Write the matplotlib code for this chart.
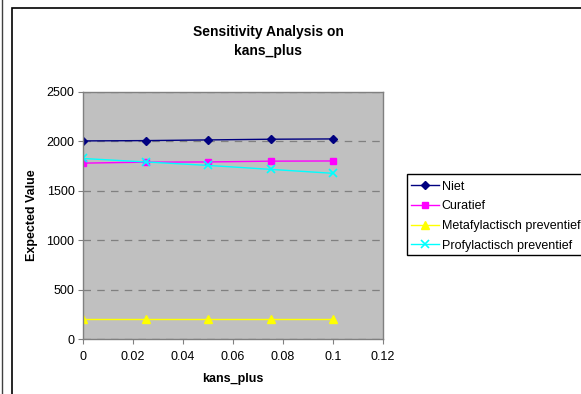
import matplotlib
matplotlib.use("Agg")
import matplotlib.pyplot as plt
from matplotlib.patches import Rectangle
from matplotlib.lines import Line2D

plt.rcParams['font.family'] = ['Liberation Sans', 'DejaVu Sans']

x_values = [0, 0.025, 0.05, 0.075, 0.1]
niet = [2005, 2008, 2015, 2022, 2025]
curatief = [1780, 1790, 1792, 1800, 1802]
metafylactisch = [200, 200, 200, 200, 200]
profylactisch = [1827, 1792, 1757, 1717, 1677]

series_names = ["Niet", "Curatief", "Metafylactisch preventief", "Profylactisch preventief"]
x_ticks = [0, 0.02, 0.04, 0.06, 0.08, 0.1, 0.12]
x_tick_labels = ["0", "0.02", "0.04", "0.06", "0.08", "0.1", "0.12"]
y_ticks = [0, 500, 1000, 1500, 2000, 2500]

W, H = 581, 394
fig = plt.figure(figsize=(W / 100, H / 100), dpi=100)
fig.patch.set_facecolor('white')

# outer chart border
fig.add_artist(Rectangle((12 / W, -0.05), 1.2, 1 - 8 / H + 0.05, transform=fig.transFigure,
                         fill=False, edgecolor='black', linewidth=1.2))
fig.add_artist(Line2D([2.5 / W, 2.5 / W], [0, 1], transform=fig.transFigure, color='#404040', linewidth=1.0))

left, right, top, bottom = 83, 383, 92, 339
ax = fig.add_axes([left / W, 1 - bottom / H, (right - left) / W, (bottom - top) / H])
ax.set_facecolor('#C0C0C0')

ax.plot(x_values, niet, color='#000080', marker='D', markersize=4, linewidth=1, label=series_names[0])
ax.plot(x_values, curatief, color='#FF00FF', marker='s', markersize=5, linewidth=1, label=series_names[1])
ax.plot(x_values, metafylactisch, color='#FFFF00', marker='^', markersize=6, linewidth=1, label=series_names[2])
ax.plot(x_values, profylactisch, color='#00FFFF', marker='x', markersize=6, markeredgewidth=1.2, linewidth=1,
        label=series_names[3])

ax.set_xlim(0, 0.12)
ax.set_ylim(0, 2500)
ax.set_xticks(x_ticks)
ax.set_xticklabels(x_tick_labels)
ax.set_yticks(y_ticks)
ax.yaxis.grid(True, linestyle=(0, (6, 5)), color='#808080', linewidth=0.9)
ax.set_axisbelow(True)
for s in ax.spines.values():
    s.set_color('#808080')
    s.set_linewidth(1.0)
ax.tick_params(axis='both', direction='out', length=3.6, color='#808080', labelsize=9, labelcolor='black')
ax.tick_params(axis='x', pad=5)
ax.tick_params(axis='y', pad=2.5)

ax.set_xlabel('kans_plus', fontsize=9, fontweight='bold', labelpad=7)
ax.set_ylabel('Expected Value', fontsize=9, fontweight='bold', labelpad=6)

fig.text(268 / W, 1 - 32 / H, 'Sensitivity Analysis on', ha='center', va='center', fontsize=10, fontweight='bold')
fig.text(268 / W, 1 - 51 / H, 'kans_plus', ha='center', va='center', fontsize=10, fontweight='bold')

# legend
fig.add_artist(Rectangle((406.5 / W, 1 - 255 / H), 0.5, (255 - 174) / H, transform=fig.transFigure,
                         fill=True, facecolor='white', edgecolor='black', linewidth=1.0))
handles, labels = ax.get_legend_handles_labels()
leg = fig.legend(handles, labels, loc='upper left', bbox_to_anchor=(408 / W, 1 - 178 / H),
                 frameon=False, fontsize=9, handlelength=2.3, handletextpad=0.2,
                 labelspacing=0.62, borderpad=0.2, borderaxespad=0)

fig.savefig('out.png', dpi=100)
